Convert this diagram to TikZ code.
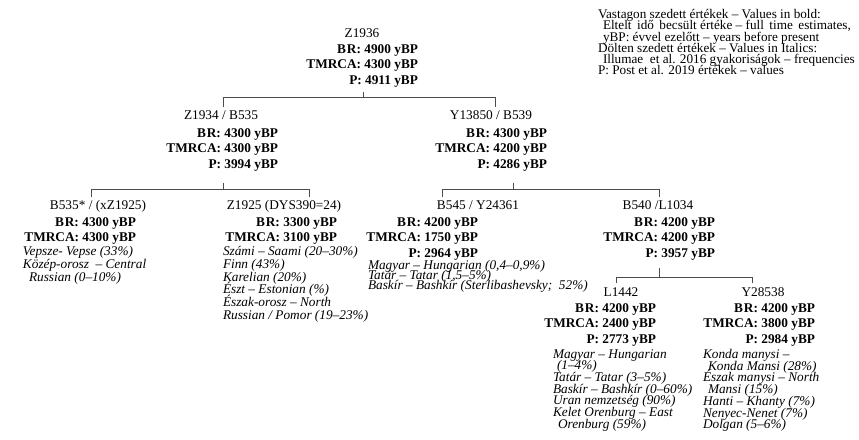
\documentclass[tikz,border=0pt]{standalone}
\usepackage{fontspec}
\setmainfont{Liberation Serif}
\newcommand\tightlines{\lineskiplimit=-100pt\relax}
\newcommand\BRlabel{B\kern1pt R:\kern3.5pt}
\begin{document}
\begin{tikzpicture}[x=1pt,y=-1pt]
\tikzset{
  lbl/.style={inner sep=0pt, outer sep=0pt, font=\fontsize{13.3}{15.5}\selectfont},
  ttl/.style={lbl, anchor=north},
  bld/.style={lbl, anchor=north east, align=right, font=\fontsize{13.3}{15.8}\selectfont\bfseries},
  itl/.style={lbl, anchor=north west, align=left, font=\fontsize{13.3}{#1}\selectfont\tightlines\itshape},
  leg/.style={lbl, anchor=north west, align=left, font=\fontsize{13.2}{11.2}\selectfont\tightlines},
  conn/.style={draw=black!70, line width=0.7pt},
}
\useasboundingbox (0,0) rectangle (859,439);

% legend
\node[leg] (legend) at (598,9.5) {Vastagon szedett értékek -- Values in bold:\\
\hspace{5pt}Eltelt\ \,idő\ \,becsült értéke -- full\ \,time\ \,estimates,\\
\hspace{5pt}yBP: évvel ezelőtt -- years before present\\
Dölten szedett értékek -- Values in Italics:\\
\hspace{5pt}Illumae\ \ et al. 2016 gyakoriságok -- frequencies\\
P: Post et al. 2019 értékek -- values};

% root
\node[ttl] (r) at (362,28.3) {Z1936};
\node[bld] (rb) at (418,44.3) {\BRlabel 4900 yBP\\TMRCA: 4300 yBP\\P: 4911 yBP};

% level 2
\node[ttl] (a) at (221,110.3) {Z1934 / B535};
\node[bld] (ab) at (278,128.3) {\BRlabel 4300 yBP\\TMRCA: 4300 yBP\\P: 3994 yBP};
\node[ttl] (b) at (491,110.3) {Y13850 / B539};
\node[bld] (bb) at (547,128.3) {\BRlabel 4300 yBP\\TMRCA: 4200 yBP\\P: 4286 yBP};

% level 3
\node[ttl] (c) at (98,200.3) {B535* / (xZ1925)};
\node[bld] (cb) at (136,217.3) {\BRlabel 4300 yBP\\TMRCA: 4300 yBP};
\node[itl=13] (ci) at (23,246.3) {Vepsze- Vepse (33\%)\\Közép-orosz \ -- Central\\\hspace{6pt}Russian (0--10\%)};

\node[ttl] (d) at (284,200.3) {Z1925 (DYS390=24)};
\node[bld] (db) at (337,217.3) {\BRlabel 3300 yBP\\TMRCA: 3100 yBP};
\node[itl=12.8] (di) at (223,246.3) {Számi -- Saami (20--30\%)\\Finn (43\%)\\Karelian (20\%)\\Észt -- Estonian (\%)\\Észak-orosz -- North\\Russian / Pomor (19--23\%)};

\node[ttl] (e) at (478,200.3) {B545 / Y24361};
\node[bld] (eb) at (478,217.3) {\BRlabel 4200 yBP\\TMRCA: 1750 yBP\\P: 2964 yBP};
\node[itl=10] (ei) at (368,260.3) {Magyar -- Hungarian (0,4--0,9\%)\\Tatár -- Tatar (1,5--5\%)\\Baskír -- Bashkír (Sterlibashevsky; \ 52\%)};

\node[ttl] (f) at (658,200.3) {B540 /L1034};
\node[bld] (fb) at (715,217.3) {\BRlabel 4200 yBP\\TMRCA: 4200 yBP\\P: 3957 yBP};

% level 4
\node[ttl] (g) at (621,287.3) {L1442};
\node[bld] (gb) at (656,303.3) {\BRlabel 4200 yBP\\TMRCA: 2400 yBP\\P: 2773 yBP};
\node[itl=11.7] (gi) at (553,349.3) {Magyar -- Hungarian\\\hspace{4pt}(1--4\%)\\Tatár -- Tatar (3--5\%)\\Baskír -- Bashkír (0--60\%)\\Uran nemzetség (90\%)\\Kelet Orenburg -- East\\\hspace{5pt}Orenburg (59\%)};

\node[ttl] (h) at (763,287.3) {Y28538};
\node[bld] (hb) at (815,303.3) {\BRlabel 4200 yBP\\TMRCA: 3800 yBP\\P: 2984 yBP};
\node[itl=11.7] (hi) at (703,349.3) {Konda manysi --\\\hspace{5pt}Konda Mansi (28\%)\\Észak manysi -- North\\\hspace{5pt}Mansi (15\%)\\Hanti -- Khanty (7\%)\\Nenyec-Nenet (7\%)\\Dolgan (5--6\%)};

% connectors
\coordinate (rt) at (363,92);
\coordinate (rj) at (363,97);
\coordinate (rl) at (223,97);
\coordinate (rr) at (495,97);
\coordinate (al) at (223,107);
\coordinate (bl) at (495,107);
\draw[conn] (rt) -- (rj);
\draw[conn] (al) -- (rl) -- (rr) -- (bl);

\coordinate (at) at (223,183);
\coordinate (aj) at (223,189);
\coordinate (cl) at (91,189);
\coordinate (dl) at (309,189);
\coordinate (cd) at (91,197);
\coordinate (dd) at (309,197);
\draw[conn] (at) -- (aj);
\draw[conn] (cd) -- (cl) -- (dl) -- (dd);

\coordinate (bt) at (513,183);
\coordinate (bj) at (513,189);
\coordinate (el) at (442,189);
\coordinate (fl) at (659,189);
\coordinate (ed) at (442,197);
\coordinate (fd) at (659,197);
\draw[conn] (bt) -- (bj);
\draw[conn] (ed) -- (el) -- (fl) -- (fd);

\coordinate (ft) at (659,268);
\coordinate (fj) at (659,277);
\coordinate (gl) at (616,277);
\coordinate (hl) at (752,277);
\coordinate (gd) at (616,283);
\coordinate (hd) at (752,283);
\draw[conn] (ft) -- (fj);
\draw[conn] (gd) -- (gl) -- (hl) -- (hd);
\end{tikzpicture}
\end{document}
